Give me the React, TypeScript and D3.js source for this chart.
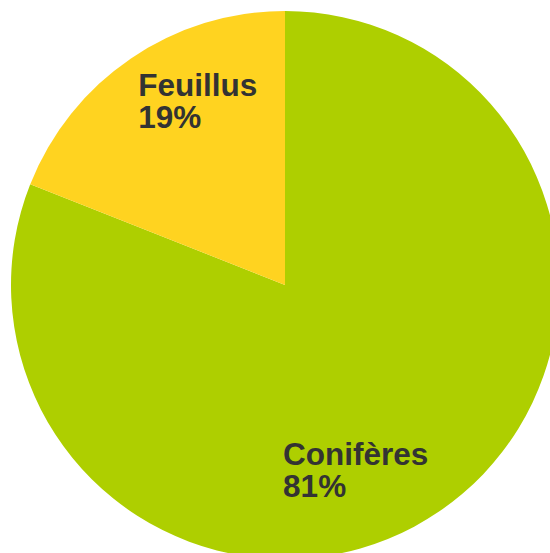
import { useEffect, useRef } from "react"
import * as d3 from "d3"

const categories = ["Conifères", "Feuillus"]
const values = [81, 19]
const colors = ["#aecf00", "#ffd320"]
// label anchor, as a fraction of the radius from the centre
const labelOffsets: [number, number][] = [
  [-0.007, 0.657],
  [-0.536, -0.69],
]

export default function App() {
  const svgRef = useRef<SVGSVGElement>(null)

  useEffect(() => {
    if (!svgRef.current) return
    const svg = d3.select(svgRef.current)
    svg.selectAll("*").remove()

    const cx = 285
    const cy = 285
    const radius = 274

    const data = categories.map((c, i) => ({ name: c, value: values[i], color: colors[i] }))

    const pie = d3
      .pie<{ name: string; value: number; color: string }>()
      .sort(null)
      .value((d) => d.value)

    const arc = d3
      .arc<d3.PieArcDatum<{ name: string; value: number; color: string }>>()
      .innerRadius(0)
      .outerRadius(radius)

    const g = svg.append("g").attr("transform", `translate(${cx}, ${cy})`)

    g.selectAll("path")
      .data(pie(data))
      .enter()
      .append("path")
      .attr("d", arc)
      .attr("fill", (d) => d.data.color)

    const total = d3.sum(values)
    const fontSize = 31.5

    data.forEach((d, i) => {
      const [fx, fy] = labelOffsets[i]
      const t = g
        .append("text")
        .attr("x", fx * radius)
        .attr("y", fy * radius)
        .attr("font-family", "Liberation Sans, Arial, sans-serif")
        .attr("font-weight", "bold")
        .attr("font-size", fontSize)
        .attr("fill", "#333333")
      t.append("tspan").attr("x", fx * radius).text(d.name)
      t.append("tspan")
        .attr("x", fx * radius)
        .attr("dy", 32)
        .text(`${Math.round((d.value / total) * 100)}%`)
    })
  }, [])

  return (
    <svg
      ref={svgRef}
      width={550}
      height={553}
      style={{ position: "absolute", left: 0, top: 0, background: "#fff" }}
    />
  )
}
